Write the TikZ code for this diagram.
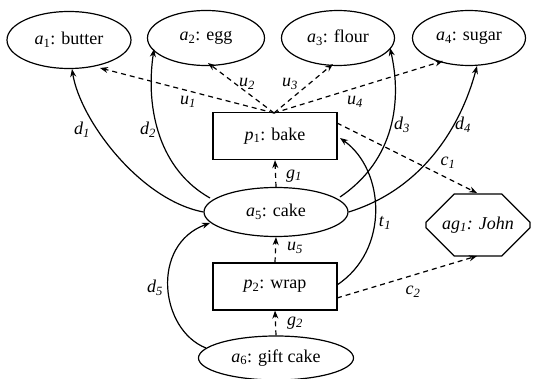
\documentclass[tikz,border=0pt]{standalone}
\usepackage{fontspec}
\setmainfont{Liberation Serif}
\usetikzlibrary{arrows.meta,shapes.geometric,shapes.misc}
\newcommand\sub[2]{\textit{#1}\textsubscript{#2}}
\newcommand\isub[2]{\textit{#1}\textsubscript{\textit{#2}}}
\begin{document}
\begin{tikzpicture}[x=1pt,y=-1pt,
  font=\fontsize{18}{21}\selectfont,
  every node/.style={line width=1.2pt},
  res/.style={draw,ellipse,inner sep=0pt},
  proc/.style={draw,rectangle,minimum width=124pt,minimum height=47pt,inner sep=0pt},
  agent/.style={draw,chamfered rectangle,chamfered rectangle xsep=20pt,chamfered rectangle ysep=20pt,
     minimum width=104pt,minimum height=62pt,inner sep=0pt},
  flow/.style={line width=1.2pt,-{Stealth[length=8pt,width=6pt]}},
  link/.style={flow,dashed,dash pattern=on 5pt off 4pt},
  lbl/.style={inner sep=0pt}]
\useasboundingbox (0,0) rectangle (533,379);
% resources
\node[res,minimum width=124pt,minimum height=57pt] (a1) at (69,40) {\sub{a}{1}: butter};
\node[res,minimum width=117pt,minimum height=55pt] (a2) at (206,38) {\sub{a}{2}: egg};
\node[res,minimum width=113pt,minimum height=55pt] (a3) at (338,38) {\sub{a}{3}: flour};
\node[res,minimum width=113pt,minimum height=55pt] (a4) at (469,38) {\sub{a}{4}: sugar};
\node[res,minimum width=144pt,minimum height=49pt] (a5) at (276,212) {\sub{a}{5}: cake};
\node[res,minimum width=155pt,minimum height=44pt] (a6) at (276,358) {\sub{a}{6}: gift cake};
% processes
\node[proc] (p1) at (275,136) {\sub{p}{1}: bake};
\node[proc] (p2) at (275,286.5) {\sub{p}{2}: wrap};
% agent
\node[agent] (ag1) at (478,225) {\textit{ag}\textsubscript{\textit{1}}\textit{: John}};
% anchor points on the nodes
\coordinate (p1t) at (274,113);
\coordinate (p1r) at (337,123);
\coordinate (p2r) at (337,298);
% usage links from bake
\draw[link] (p1t) -- (100,68);
\draw[link] (p1t) -- (208,63);
\draw[link] (p1t) -- (333,64);
\draw[link] (p1t) -- (443,61);
% production links into cake
\draw[flow] (a5.west) .. controls (140,200) and (80,120) .. (72,69);
\draw[flow] (210,198) .. controls (160,170) and (145,110) .. (154,49);
\draw[flow] (340,197) .. controls (395,160) and (402,100) .. (390,48);
\draw[flow] (a5.east) .. controls (420,190) and (460,130) .. (477,66);
\draw[flow] (206,348) .. controls (160,330) and (150,245) .. (210,223);
% cake to bake, wrap to cake, gift cake to wrap
\draw[link] (a5.north) -- (p1.south);
\draw[link] (p2.north) -- (a5.south);
\draw[link] (a6.north) -- (p2.south);
% transfer from wrap back to bake
\draw[flow] (337,285) .. controls (390,250) and (385,170) .. (340,138);
% agent links
\draw[link] (p1r) -- (477,193);
\draw[link] (p2r) -- (477,256);
% labels
\node[lbl] at (188,102) {\isub{u}{1}};
\node[lbl] at (247,84) {\isub{u}{2}};
\node[lbl] at (290,84) {\isub{u}{3}};
\node[lbl] at (355,102) {\isub{u}{4}};
\node[lbl] at (82,130) {\isub{d}{1}};
\node[lbl] at (148,130) {\isub{d}{2}};
\node[lbl] at (402,125) {\isub{d}{3}};
\node[lbl] at (463,125) {\isub{d}{4}};
\node[lbl] at (155,288) {\isub{d}{5}};
\node[lbl] at (294,176) {\isub{g}{1}};
\node[lbl] at (295,248) {\isub{u}{5}};
\node[lbl] at (295,323) {\isub{g}{2}};
\node[lbl] at (385,223) {\isub{t}{1}};
\node[lbl] at (448,163) {\isub{c}{1}};
\node[lbl] at (413,292) {\isub{c}{2}};
\end{tikzpicture}
\end{document}
